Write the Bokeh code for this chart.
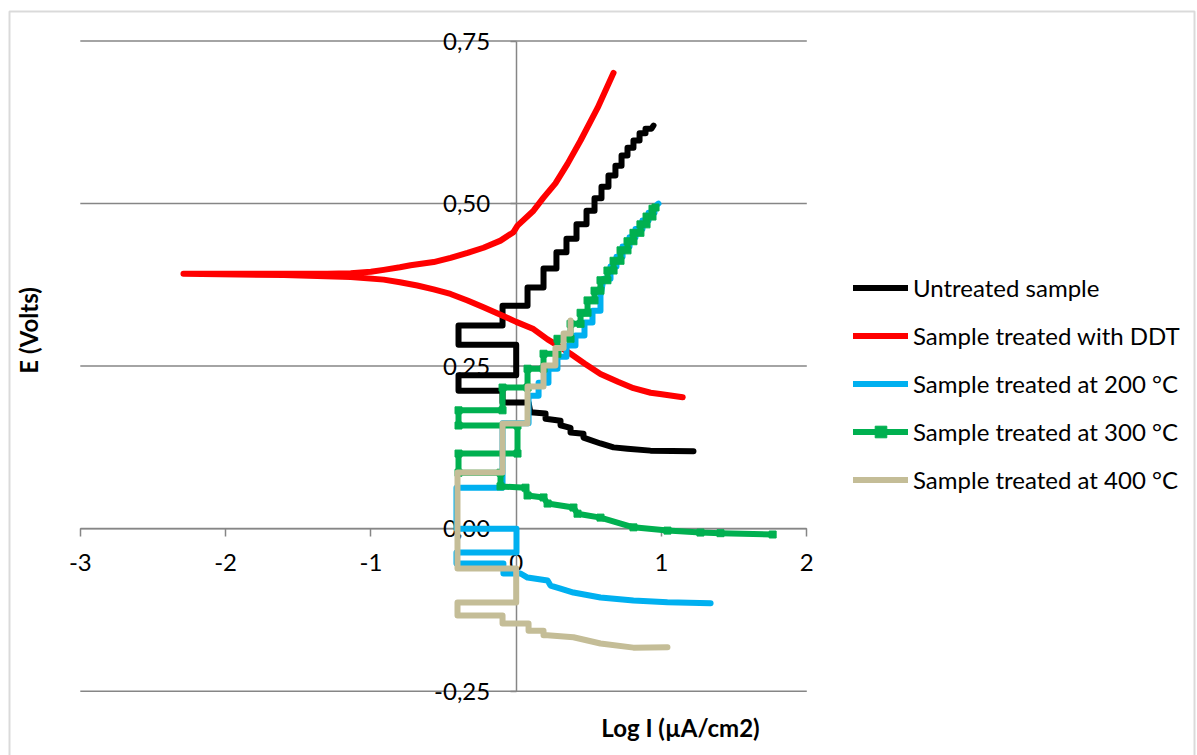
import math

from bokeh.plotting import figure
from bokeh.models import (Range1d, FixedTicker, CustomJSTickFormatter, Legend,
                          LegendItem, Label, BoxAnnotation)
from bokeh.embed import file_html
from bokeh.resources import INLINE

# Potentiodynamic polarisation curves: log current density vs potential.
# Each series runs from the cathodic end, through the corrosion potential,
# up the anodic branch.

untreated_logi = [1.220, 0.924, 0.766, 0.670, 0.580, 0.463, 0.463, 0.374, 0.374,
                  0.305, 0.305, 0.202, 0.202, 0.098, 0.085, -0.094, -0.094,
                  -0.397, -0.397, 0.000, 0.000, -0.397, -0.397, -0.094, -0.094,
                  0.078, 0.078, 0.188, 0.188, 0.277, 0.277, 0.346, 0.346,
                  0.415, 0.415, 0.484, 0.484, 0.539, 0.539, 0.587, 0.587,
                  0.635, 0.635, 0.683, 0.683, 0.725, 0.725, 0.766, 0.766,
                  0.807, 0.807, 0.849, 0.849, 0.890, 0.890, 0.931, 0.945]
untreated_e = [0.119, 0.120, 0.123, 0.125, 0.131, 0.140, 0.146, 0.148, 0.155,
               0.159, 0.166, 0.169, 0.177, 0.179, 0.194, 0.194, 0.212,
               0.212, 0.236, 0.236, 0.283, 0.283, 0.3125, 0.3125, 0.343,
               0.343, 0.371, 0.371, 0.400, 0.400, 0.425, 0.425, 0.446,
               0.446, 0.468, 0.468, 0.489, 0.489, 0.508, 0.508, 0.526,
               0.526, 0.543, 0.543, 0.558, 0.558, 0.574, 0.574, 0.586,
               0.586, 0.597, 0.597, 0.608, 0.608, 0.615, 0.615, 0.620]

ddt_logi = [1.146, 0.990, 0.925, 0.807, 0.700, 0.580, 0.470, 0.374, 0.284,
            0.216, 0.119, 0.000, -0.108, -0.225, -0.335, -0.452, -0.568,
            -0.681, -0.800, -0.912, -1.139, -1.600, -2.290, -1.600, -1.300,
            -1.139, -1.000, -0.912, -0.800, -0.727, -0.568, -0.452, -0.335,
            -0.225, -0.108, -0.019, 0.009, 0.119, 0.188, 0.270, 0.353,
            0.443, 0.560, 0.670]
ddt_e = [0.202, 0.207, 0.209, 0.216, 0.226, 0.238, 0.254, 0.269, 0.282,
         0.291, 0.307, 0.318, 0.329, 0.3405, 0.351, 0.361, 0.368,
         0.374, 0.379, 0.383, 0.387, 0.390, 0.392, 0.392, 0.392,
         0.393, 0.395, 0.398, 0.402, 0.405, 0.410, 0.4165, 0.424,
         0.432, 0.443, 0.456, 0.466, 0.489, 0.509, 0.531, 0.561,
         0.597, 0.647, 0.701]

t200_logi = [1.338, 1.041, 0.807, 0.580, 0.394, 0.305, 0.236, 0.216, 0.078,
             0.030, -0.088, -0.088, -0.411, -0.411, 0.002, 0.002, -0.411,
             -0.411, -0.094, -0.094, 0.085, 0.085, 0.154, 0.154, 0.222,
             0.222, 0.284, 0.284, 0.346, 0.346, 0.408, 0.408, 0.470,
             0.470, 0.525, 0.525, 0.580, 0.580, 0.601, 0.649, 0.649,
             0.690, 0.690, 0.732, 0.732, 0.780, 0.780, 0.821, 0.821,
             0.869, 0.869, 0.911, 0.911, 0.952, 0.952, 0.979]
t200_e = [-0.1147, -0.1132, -0.1106, -0.106, -0.0983, -0.0921, -0.0875, -0.0798, -0.0752,
          -0.069, -0.069, -0.0537, -0.0537, -0.0367, -0.0367, 0.000, 0.000,
          0.063, 0.063, 0.162, 0.162, 0.2045, 0.2045, 0.2245, 0.2245,
          0.246, 0.246, 0.2645, 0.2645, 0.2815, 0.2815, 0.297, 0.297,
          0.317, 0.317, 0.335, 0.335, 0.358, 0.3845, 0.3845, 0.403,
          0.403, 0.418, 0.418, 0.434, 0.434, 0.448, 0.448, 0.461,
          0.461, 0.474, 0.474, 0.486, 0.486, 0.495, 0.500]

t300_logi = [1.765, 1.406, 1.268, 1.041, 0.807, 0.580, 0.422, 0.394, 0.216,
             0.188, 0.078, 0.064, -0.108, -0.108, -0.397, -0.397, 0.009,
             0.009, -0.397, -0.397, -0.094, -0.094, 0.078, 0.078, 0.188,
             0.188, 0.284, 0.284, 0.374, 0.374, 0.443, 0.443, 0.491,
             0.491, 0.539, 0.539, 0.580, 0.580, 0.628, 0.628, 0.670,
             0.670, 0.718, 0.718, 0.766, 0.766, 0.807, 0.807, 0.855,
             0.855, 0.897, 0.897, 0.938, 0.938, 0.959]
t300_e = [-0.009, -0.007, -0.006, -0.003, 0.002, 0.017, 0.023, 0.0325, 0.0386,
          0.048, 0.051, 0.063, 0.065, 0.086, 0.086, 0.1155, 0.1155,
          0.1586, 0.1586, 0.182, 0.182, 0.217, 0.217, 0.246, 0.246,
          0.269, 0.269, 0.292, 0.292, 0.315, 0.315, 0.332, 0.332,
          0.351, 0.351, 0.366, 0.366, 0.382, 0.382, 0.397, 0.397,
          0.412, 0.412, 0.428, 0.428, 0.442, 0.442, 0.455, 0.455,
          0.468, 0.468, 0.480, 0.480, 0.492, 0.494]

t400_logi = [1.041, 0.807, 0.580, 0.394, 0.215, 0.188, 0.188, 0.085, 0.085,
             -0.094, -0.094, -0.404, -0.404, 0.000, 0.000, -0.404, -0.404,
             -0.094, -0.094, 0.078, 0.078, 0.188, 0.188, 0.270, 0.270,
             0.326, 0.326, 0.374, 0.374]
t400_e = [-0.1824, -0.183, -0.1767, -0.167, -0.164, -0.164, -0.157, -0.157, -0.146,
          -0.146, -0.1335, -0.1335, -0.1137, -0.1137, -0.0614, -0.0614, 0.0863,
          0.0863, 0.1617, 0.1617, 0.2186, 0.2186, 0.251, 0.251, 0.278,
          0.278, 0.300, 0.300, 0.320]

series_names = ["Untreated sample", "Sample treated with DDT",
                "Sample treated at 200 °C", "Sample treated at 300 °C",
                "Sample treated at 400 °C"]
series_colors = ["#000000", "#FF0000", "#00B0F0", "#00B050", "#C4BD97"]

x_ticks = [-3, -2, -1, 0, 1, 2]
y_ticks = [-0.25, 0.0, 0.25, 0.5, 0.75]

FONT = "Lato"
GREY = "#868686"
W, H = 1197, 755

# The frame covers the whole canvas so that the legend and titles beside the
# plotting area are not clipped; the ranges are padded accordingly.
p = figure(width=W, height=H, output_backend="svg", toolbar_location=None,
           x_range=Range1d(-3.5492, 4.6889), y_range=Range1d(-0.3489, 0.8123),
           min_border=0, min_border_left=0, min_border_right=0,
           min_border_top=0, min_border_bottom=0,
           background_fill_color="white", border_fill_color="white")
p.outline_line_color = None

# horizontal gridlines across the plotting area only
p.segment(x0=x_ticks[0], x1=x_ticks[-1], y0=y_ticks, y1=y_ticks,
          line_color=GREY, line_width=1.5, level="underlay")

# axes cross at the origin, as in a spreadsheet chart
for ax in (p.xaxis[0], p.yaxis[0]):
    ax.fixed_location = 0
    ax.level = "underlay"
    ax.axis_line_color = GREY
    ax.axis_line_width = 1.5
    ax.major_tick_line_color = GREY
    ax.major_tick_line_width = 1.5
    ax.minor_tick_line_color = None
    ax.major_tick_in = 0
    ax.major_label_text_font = FONT
    ax.major_label_text_font_size = "24px"
    ax.major_label_text_color = "black"

p.xaxis.ticker = FixedTicker(ticks=x_ticks)
p.xaxis.bounds = (x_ticks[0], x_ticks[-1])
p.xaxis.major_tick_out = 8
p.xaxis.major_label_standoff = 17
p.xaxis.formatter = CustomJSTickFormatter(code="return tick.toFixed(0)")

p.yaxis.ticker = FixedTicker(ticks=y_ticks)
p.yaxis.bounds = (y_ticks[0], y_ticks[-1])
p.yaxis.major_tick_out = 6
p.yaxis.major_label_standoff = 20
p.yaxis.formatter = CustomJSTickFormatter(code="return tick.toFixed(2).replace('.', ',')")

p.xgrid.visible = False
p.ygrid.visible = False

series = [(untreated_logi, untreated_e), (ddt_logi, ddt_e), (t200_logi, t200_e),
          (t300_logi, t300_e), (t400_logi, t400_e)]

items = []
for (xs, ys), name, color in zip(series, series_names, series_colors):
    rend = [p.line(xs, ys, line_color=color, line_width=6,
                   line_cap="round", line_join="round")]
    if name.endswith("300 °C"):
        rend.append(p.scatter(xs, ys, marker="square", size=7,
                              fill_color=color, line_color=color))
    items.append(LegendItem(label=name, renderers=rend))

legend = Legend(items=items, location=(853, 261), orientation="vertical",
                glyph_width=55, glyph_height=29, label_height=29, spacing=19,
                padding=0, margin=0, label_standoff=5,
                label_text_font=FONT, label_text_font_size="24px",
                label_text_color="black",
                border_line_color=None, background_fill_alpha=0)
p.add_layout(legend)

p.add_layout(Label(x=680, y=H - 727, x_units="screen", y_units="screen",
                   text="Log I (µA/cm2)", text_font=FONT, text_font_style="bold",
                   text_font_size="24px", text_color="black",
                   text_align="center", text_baseline="middle"))
p.add_layout(Label(x=28, y=H - 330, x_units="screen", y_units="screen",
                   text="E (Volts)", angle=math.pi / 2, text_font=FONT,
                   text_font_style="bold", text_font_size="24px", text_color="black",
                   text_align="center", text_baseline="middle"))

# chart-area border
p.add_layout(BoxAnnotation(left=9, right=1194, top=H - 11, bottom=-40,
                           left_units="screen", right_units="screen",
                           top_units="screen", bottom_units="screen",
                           fill_alpha=0, line_color=GREY, line_width=2))

open("out.html", "w").write(file_html(p, INLINE))
